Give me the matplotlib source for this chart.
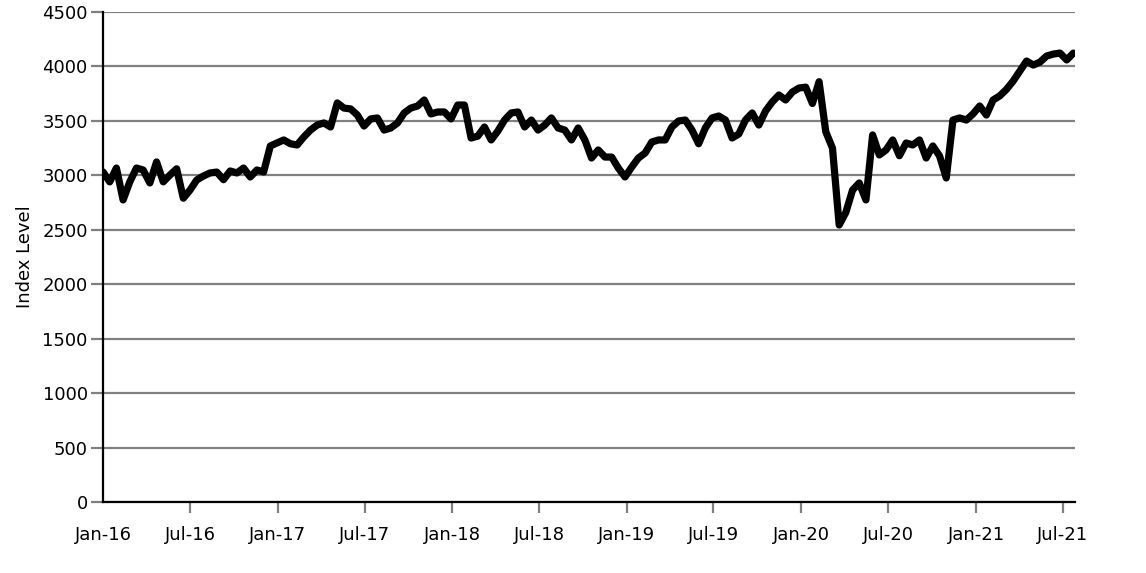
import pandas as pd
import numpy as np
import matplotlib
matplotlib.use('Agg')
import matplotlib.pyplot as plt

# Index level, read every two weeks from Jan 2016 to Jul 2021
start_date = '2016-01-01'
index_level = [
    3031, 2940, 3067, 2774, 2940, 3067, 3049, 2930, 3123, 2940,
    3003, 3060, 2790, 2865, 2957, 2994, 3022, 3030, 2960, 3040,
    3022, 3067, 2985, 3049, 3031, 3270, 3297, 3325, 3290, 3279,
    3352, 3416, 3462, 3481, 3444, 3665, 3618, 3610, 3554, 3453,
    3518, 3527, 3416, 3435, 3481, 3573, 3618, 3637, 3692, 3564,
    3582, 3582, 3518, 3646, 3646, 3343, 3360, 3444, 3325, 3407,
    3508, 3573, 3582, 3444, 3508, 3416, 3462, 3527, 3435, 3416,
    3325, 3435, 3325, 3159, 3233, 3168, 3168, 3067, 2985, 3076,
    3159, 3205, 3306, 3325, 3325, 3444, 3499, 3508, 3416, 3290,
    3435, 3527, 3545, 3508, 3343, 3380, 3508, 3573, 3462, 3591,
    3674, 3738, 3692, 3765, 3802, 3810, 3660, 3860, 3400, 3250,
    2544, 2660, 2865, 2930, 2774, 3371, 3187, 3233, 3325, 3180,
    3297, 3279, 3325, 3159, 3270, 3178, 2976, 3508, 3527, 3508,
    3564, 3637, 3554, 3692, 3730, 3790, 3866, 3958, 4050, 4013,
    4040, 4096, 4114, 4123, 4060, 4123,
]
dates = pd.date_range(start_date, periods=len(index_level), freq='14D')

tick_dates = pd.date_range('2016-01-01', '2021-07-01', freq='6MS')
tick_labels = [d.strftime('%b-%y') for d in tick_dates]
y_ticks = np.arange(0, 4501, 500)

fig = plt.figure(figsize=(11.46, 5.73), dpi=100)
ax = fig.add_axes([0.0899, 0.124, 0.848, 0.855])

ax.plot(dates, index_level, color='black', linewidth=5.2, solid_joinstyle='round',
        solid_capstyle='round', zorder=3)

ax.set_ylim(0, 4500)
ax.set_xlim(pd.Timestamp('2016-01-01'), dates[-1] + pd.Timedelta(days=3))
ax.set_yticks(y_ticks)
ax.set_xticks(tick_dates)
ax.set_xticklabels(tick_labels)
ax.yaxis.grid(True, color='#808080', linewidth=1.6)
ax.set_axisbelow(True)

ax.tick_params(axis='y', colors='#808080', length=9, width=1.6, labelcolor='black', labelsize=13, pad=2)
ax.tick_params(axis='x', colors='#808080', length=8, width=1.6, labelcolor='black', labelsize=13, pad=9)
# no tick mark under the first label
ax.get_xticklines()[0].set_visible(False)

for side in ['top', 'right']:
    ax.spines[side].set_visible(False)
for side in ['left', 'bottom']:
    ax.spines[side].set_color('black')
    ax.spines[side].set_linewidth(1.6)

ax.set_ylabel('Index Level', fontsize=13, labelpad=6)

fig.savefig('out.png', dpi=100)
